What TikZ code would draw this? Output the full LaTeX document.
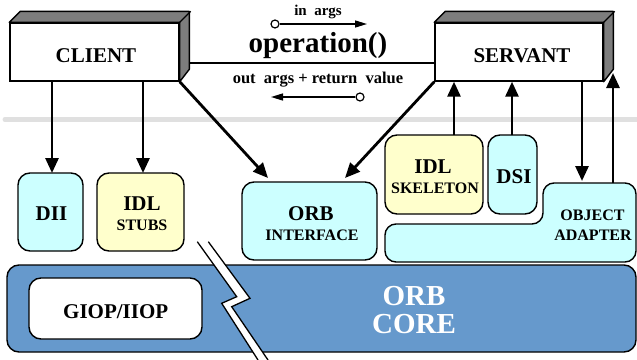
\documentclass[tikz,border=0pt]{standalone}
\usepackage{fontspec}
\setmainfont{Liberation Serif}
\usetikzlibrary{arrows.meta,calc}
\definecolor{lcyan}{RGB}{204,255,255}
\definecolor{lyellow}{RGB}{255,255,204}
\definecolor{corebl}{RGB}{102,153,204}
\definecolor{facegray}{RGB}{125,125,125}
\definecolor{sepgray}{RGB}{224,224,224}
\begin{document}
\begin{tikzpicture}[x=1pt,y=-1pt,
  box/.style={draw=black,line width=1.4pt,rounded corners=12pt,inner sep=0pt},
  front/.style={draw=black,line width=1.4pt,fill=white,inner sep=0pt},
  face/.style={draw=black,line width=1.4pt,fill=facegray,line join=round},
  arr/.style={line width=2.8pt,-{Triangle[length=15pt,width=13pt]}},
  thinarr/.style={line width=1.4pt,-{Triangle[length=12pt,width=7pt]}},
  circ/.style={circle,draw=black,fill=white,line width=1.2pt,minimum size=8pt,inner sep=0pt},
  lbl/.style={anchor=base,inner sep=0pt},
  tA/.style={lbl,font=\bfseries\fontsize{21}{25}\selectfont},
  tB/.style={lbl,font=\bfseries\fontsize{16}{19}\selectfont},
  tC/.style={lbl,font=\bfseries\fontsize{29}{33}\selectfont},
]
\useasboundingbox (0,0) rectangle (637,359);
\fill[white] (0,0) rectangle (637,359);

% separator band
\draw[sepgray,line width=5pt,line cap=round] (5,119.5) -- (637,119.5);

% CLIENT 3D box
\node[front,minimum width=169pt,minimum height=58pt] (client) at (94.5,52) {};
\draw[face] (client.north west) -- ++(11,-11) -- ++(169,0) -- ++(0,58) -- (client.south east) -- (client.north east) -- cycle;
\draw[line width=1.4pt] (client.north east) -- ++(11,-11);
\node[tA] (tclient) at (96,62) {CLIENT};

% SERVANT 3D box
\node[front,minimum width=168pt,minimum height=58pt] (servant) at (519,52) {};
\draw[face] (servant.north west) -- ++(11,-11) -- ++(168,0) -- ++(0,58) -- (servant.south east) -- (servant.north east) -- cycle;
\draw[line width=1.4pt] (servant.north east) -- ++(11,-11);
\node[tA] (tservant) at (522,62.5) {SERVANT};

% operation line and labels
\coordinate (hl) at (190,63);
\draw[line width=1.4pt] (hl) -- (hl -| servant.west);
\node[lbl,font=\bfseries\fontsize{15}{18}\selectfont] (tin) at (318,15) {in~~args};
\node[tC] (top) at (318,52) {operation()};
\node[lbl,font=\bfseries\fontsize{16.5}{19}\selectfont] (tout) at (318,83) {out~~args + return~~value};
\node[circ] (cin) at (275,24) {};
\coordinate (ein) at (367,24);
\draw[thinarr] (cin) -- (ein);
\node[circ] (cout) at (360,97) {};
\coordinate (eout) at (271,97);
\draw[thinarr] (cout) -- (eout);

% client side boxes
\node[box,fill=lcyan,minimum width=65pt,minimum height=78pt] (dii) at (50.5,212) {};
\node[tA] (tdii) at (51.5,220) {DII};
\node[box,fill=lyellow,minimum width=87pt,minimum height=78pt] (stubs) at (140.5,212) {};
\node[tA] (tidl1) at (142,210) {IDL};
\node[tB] (tstubs) at (142,230) {STUBS};

% ORB interface
\node[box,fill=lcyan,minimum width=135pt,minimum height=78pt] (iface) at (309.5,221) {};
\node[tA] (torb1) at (311,220) {ORB};
\node[tB] (tiface) at (312,240) {INTERFACE};

% skeleton and DSI
\node[box,fill=lyellow,minimum width=98pt,minimum height=79pt] (skel) at (434,174.5) {};
\node[tA] (tidl2) at (433,173.3) {IDL};
\node[tB] (tskel) at (435,193.3) {SKELETON};
\node[box,fill=lcyan,minimum width=49pt,minimum height=79pt] (dsi) at (512.5,174.5) {};
\node[tA] (tdsi) at (514,183.3) {DSI};

% object adapter
\draw[draw=black,line width=1.4pt,rounded corners=11pt,fill=lcyan]
  (460,224) -- (543,224) -- (543,183) -- (636,183) -- (636,262) -- (385,262) -- (385,224) -- cycle;
\coordinate (oa) at (590,230);
\node[tB] (tobj) at (592.5,220) {OBJECT};
\node[tB] (tadapt) at (593,240.7) {ADAPTER};

% ORB core
\node[box,fill=corebl,minimum width=629pt,minimum height=87pt] (core) at (321.5,308.5) {};
\node[box,fill=white,minimum width=173pt,minimum height=61pt] (giop) at (115.5,308.5) {};
\node[tA] (tgiop) at (115.7,318.3) {GIOP/IIOP};
\node[tC,text=white] (tcore1) at (414,305) {ORB};
\node[tC,text=white] (tcore2) at (414,333.3) {CORE};

% lightning break
\fill[white] (197.3,241.7) -- (236.7,296.7) -- (221.7,303.3) -- (258,360) -- (268,360) -- (231.7,306.7) -- (250,298.3) -- (208.3,241.7) -- cycle;
\draw[line width=1.3pt,line join=miter] (197.3,241.7) -- (236.7,296.7) -- (221.7,303.3) -- (258,360);
\draw[line width=1.3pt,line join=miter] (208.3,241.7) -- (250,298.3) -- (231.7,306.7) -- (268,360);

% arrows from client
\coordinate (a1) at (52,173);
\coordinate (a2) at (143,173);
\coordinate (a3) at (268,178);
\draw[arr] (a1 |- client.south) -- (a1);
\draw[arr] (a2 |- client.south) -- (a2);
\draw[arr] (client.south east) -- (a3);

% arrows at servant
\coordinate (a4) at (345,178);
\draw[arr] (servant.south west) -- (a4);
\coordinate (a5) at (454,135);
\coordinate (a6) at (512,135);
\draw[arr] (a5) -- (a5 |- servant.south);
\draw[arr] (a6) -- (a6 |- servant.south);
\coordinate (a7) at (582,181);
\draw[arr] (a7 |- servant.south) -- (a7);
\coordinate (a8) at (613,183);
\coordinate (a8t) at (613,73);
\draw[arr] (a8) -- (a8t);
\end{tikzpicture}
\end{document}
